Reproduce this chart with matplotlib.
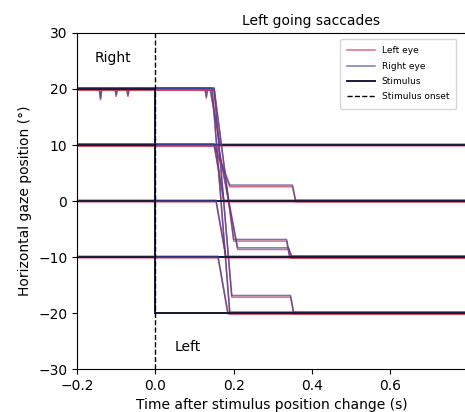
import matplotlib
matplotlib.use("Agg")
import matplotlib.pyplot as plt
import numpy as np

# trials: stimulus before/after the step, saccade timing and any undershoot plateau
stim_start = [20, 20, 20, 20, 10, 10, 10, 0, -10]
stim_end = [10, -20, -20, -10, 0, -10, 0, -10, -20]
sacc_onset = [0.14, 0.145, 0.15, 0.15, 0.15, 0.16, 0.15, 0.155, 0.16]
sacc_land = [0.165, 0.19, 0.195, 0.2, 0.19, 0.21, 0.175, 0.18, 0.185]
plateau = [10, -20, -17, -7, 2.7, -8.5, 0, -10, -20]
corr_time = [None, None, 0.345, 0.335, 0.35, 0.34, None, None, None]

# small dips (blinks / noise) on the 20 deg fixation
dip_times = [-0.14, -0.10, -0.07, 0.13]
dip_depth = [-1.8, -1.2, -1.2, -1.5]

eye_offset = {"Left eye": -0.15, "Right eye": 0.15}
eye_color = {"Left eye": "#d0304a", "Right eye": "#3a3f9a"}
stim_color = "#1b1b3a"


def eye_trace(i, off):
    t = [-0.2]
    y = [stim_start[i] + off]
    if i == 0:
        for dt, dd in zip(dip_times, dip_depth):
            t += [dt - 0.003, dt, dt + 0.003]
            y += [stim_start[i] + off, stim_start[i] + off + dd, stim_start[i] + off]
    t += [sacc_onset[i], sacc_land[i]]
    y += [stim_start[i] + off, plateau[i] + off]
    if corr_time[i] is not None:
        t += [corr_time[i], corr_time[i] + 0.008]
        y += [plateau[i] + off, stim_end[i] + off]
    t.append(0.8)
    y.append(stim_end[i] + off)
    return t, y


fig = plt.figure(figsize=(4.65, 4.12), dpi=100)
ax = fig.add_axes([0.1656, 0.104, 1.004 - 0.1656, 0.816])

for i in range(len(stim_start)):
    for name in ["Left eye", "Right eye"]:
        t, y = eye_trace(i, eye_offset[name])
        ax.plot(t, y, color=eye_color[name], lw=1.1, alpha=0.7,
                label=name if i == 0 else None)
    ax.plot([-0.2, 0, 0, 0.8], [stim_start[i], stim_start[i], stim_end[i], stim_end[i]],
            color=stim_color, lw=1.4, label="Stimulus" if i == 0 else None)

ax.axvline(0, color="k", ls="--", lw=1, label="Stimulus onset")

ax.text(-0.155, 25.5, "Right", fontsize=10, va="center")
ax.text(0.048, -26, "Left", fontsize=10, va="center")

ax.set_xlim(-0.2, 0.795)
ax.set_ylim(-30, 30)
ax.set_xticks([-0.2, 0.0, 0.2, 0.4, 0.6])
ax.set_yticks([-30, -20, -10, 0, 10, 20, 30])
ax.tick_params(labelsize=10)
ax.set_xlabel("Time after stimulus position change (s)", fontsize=10)
ax.set_ylabel("Horizontal gaze position (°)", fontsize=10)
ax.set_title("Left going saccades", fontsize=10, x=0.6)
ax.legend(loc="upper right", fontsize=6.5, handlelength=3, borderpad=0.8,
          labelspacing=0.7, bbox_to_anchor=(0.985, 0.995))

fig.savefig("out.png", dpi=100)
